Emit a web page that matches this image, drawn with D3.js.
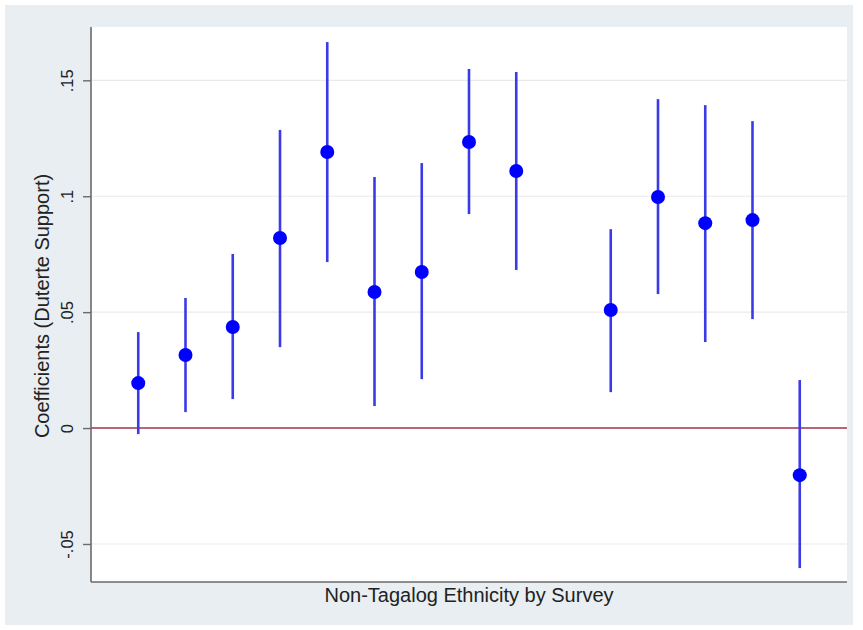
<!DOCTYPE html>
<html>
<head>
<meta charset="utf-8">
<script src="https://cdn.jsdelivr.net/npm/d3@7"></script>
<style>
  html, body { margin: 0; padding: 0; background: #ffffff; }
  svg { display: block; }
  text { font-family: "Liberation Sans", Arial, Helvetica, sans-serif; fill: #222; }
</style>
</head>
<body>
<script>
// Survey slot for each estimate (slot 9 left empty as a spacer)
const slots = [0, 1, 2, 3, 4, 5, 6, 7, 8, 10, 11, 12, 13, 14];
// Point estimates
const coef = [0.0194, 0.0315, 0.0436, 0.0820, 0.1191, 0.0587, 0.0673, 0.1234, 0.1109,
              0.0509, 0.0997, 0.0884, 0.0897, -0.0203];
// 95% confidence bounds
const lower = [-0.0026, 0.0069, 0.0125, 0.0349, 0.0716, 0.0095, 0.0211, 0.0923, 0.0682,
               0.0155, 0.0578, 0.0371, 0.0470, -0.0604];
const upper = [0.0414, 0.0561, 0.0751, 0.1286, 0.1665, 0.1083, 0.1143, 0.1549, 0.1536,
               0.0858, 0.1419, 0.1393, 0.1324, 0.0207];
// Y axis ticks and labels
const yTicks = [-0.05, 0, 0.05, 0.1, 0.15];
const yTickLabels = ["-.05", "0", ".05", ".1", ".15"];

const W = 863, H = 630;
const plot = { left: 91, right: 847, top: 27, bottom: 582 };

const svg = d3.select("body").append("svg").attr("width", W).attr("height", H);

// Graph region background
svg.append("rect").attr("x", 5).attr("y", 5).attr("width", 848).attr("height", 620)
  .attr("fill", "#e8eef1");
// Plot region
svg.append("rect").attr("x", plot.left).attr("y", plot.top)
  .attr("width", plot.right - plot.left).attr("height", plot.bottom - plot.top)
  .attr("fill", "#ffffff");

const x = d3.scaleLinear().domain([-1, 15]).range([plot.left, plot.right]);
const y = d3.scaleLinear().domain([-0.0664, 0.1730]).range([plot.bottom, plot.top]);

// Horizontal grid lines
svg.append("g").selectAll("line").data(yTicks.filter(d => d !== 0)).join("line")
  .attr("x1", plot.left).attr("x2", plot.right)
  .attr("y1", d => y(d)).attr("y2", d => y(d))
  .attr("stroke", "#eaeaea").attr("stroke-width", 1.2);

// Zero reference line
svg.append("line")
  .attr("x1", plot.left).attr("x2", plot.right)
  .attr("y1", y(0)).attr("y2", y(0))
  .attr("stroke", "#a3324a").attr("stroke-width", 1.6);

const data = slots.map((s, i) => ({ s, c: coef[i], lo: lower[i], hi: upper[i] }));

// Confidence intervals
svg.append("g").selectAll("line").data(data).join("line")
  .attr("x1", d => x(d.s)).attr("x2", d => x(d.s))
  .attr("y1", d => y(d.lo)).attr("y2", d => y(d.hi))
  .attr("stroke", "#3a3ae8").attr("stroke-width", 2.6);

// Point estimates
svg.append("g").selectAll("circle").data(data).join("circle")
  .attr("cx", d => x(d.s)).attr("cy", d => y(d.c))
  .attr("r", 7).attr("fill", "#0000ff");

// Y axis
const yAxis = d3.axisLeft(y).tickValues(yTicks)
  .tickFormat((d, i) => yTickLabels[i]).tickSize(8).tickPadding(6);
const gy = svg.append("g").attr("transform", `translate(${plot.left},0)`).call(yAxis);
gy.select(".domain").remove();
gy.selectAll(".tick line").attr("stroke", "#6a6a6a").attr("stroke-width", 1.4);
gy.selectAll(".tick text")
  .attr("font-size", 16.5).attr("fill", "#222")
  .attr("font-family", "Liberation Sans, Arial, sans-serif")
  .attr("transform", "rotate(-90)")
  .attr("x", 0).attr("dy", null)
  .attr("y", -18)
  .attr("text-anchor", "middle");

// Axis lines
svg.append("line").attr("x1", plot.left).attr("x2", plot.left)
  .attr("y1", plot.top).attr("y2", plot.bottom)
  .attr("stroke", "#6a6a6a").attr("stroke-width", 1.6);
svg.append("line").attr("x1", plot.left).attr("x2", plot.right)
  .attr("y1", plot.bottom).attr("y2", plot.bottom)
  .attr("stroke", "#6a6a6a").attr("stroke-width", 1.6);

// Axis titles
svg.append("text")
  .attr("transform", `translate(49,306) rotate(-90)`)
  .attr("text-anchor", "middle").attr("font-size", 20)
  .text("Coefficients (Duterte Support)");
svg.append("text")
  .attr("x", (plot.left + plot.right) / 2).attr("y", 602)
  .attr("text-anchor", "middle").attr("font-size", 20)
  .text("Non-Tagalog Ethnicity by Survey");
</script>
</body>
</html>
